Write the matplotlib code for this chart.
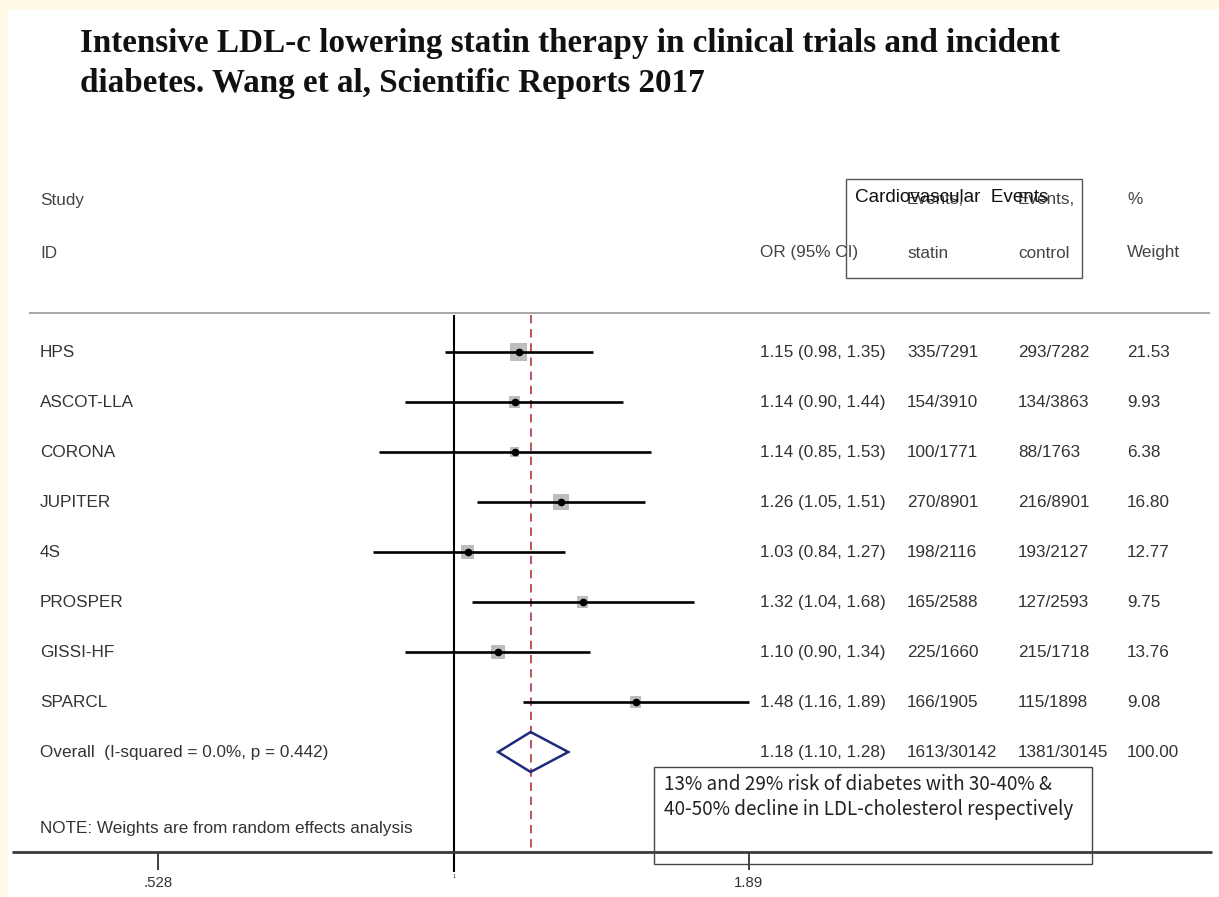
import numpy as np
import matplotlib
matplotlib.use("Agg")
import matplotlib.pyplot as plt
import matplotlib.transforms as mtransforms
from matplotlib.patches import Rectangle

# ---------------- data ----------------
studies = ["HPS", "ASCOT-LLA", "CORONA", "JUPITER", "4S", "PROSPER", "GISSI-HF", "SPARCL"]
or_est = [1.15, 1.14, 1.14, 1.26, 1.03, 1.32, 1.10, 1.48]
ci_low = [0.98, 0.90, 0.85, 1.05, 0.84, 1.04, 0.90, 1.16]
ci_high = [1.35, 1.44, 1.53, 1.51, 1.27, 1.68, 1.34, 1.89]
events_statin = ["335/7291", "154/3910", "100/1771", "270/8901", "198/2116", "165/2588", "225/1660", "166/1905"]
events_control = ["293/7282", "134/3863", "88/1763", "216/8901", "193/2127", "127/2593", "215/1718", "115/1898"]
weights = [21.53, 9.93, 6.38, 16.80, 12.77, 9.75, 13.76, 9.08]

overall_label = "Overall  (I-squared = 0.0%, p = 0.442)"
overall_est = 1.18
overall_low = 1.10
overall_high = 1.28
overall_statin = "1613/30142"
overall_control = "1381/30145"
overall_weight = "100.00"

tick_values = [0.528, 1.0, 1.89]
tick_labels = [".528", "1", "1.89"]

title_lines = ["Intensive LDL-c lowering statin therapy in clinical trials and incident",
               "diabetes. Wang et al, Scientific Reports 2017"]
note_text = "NOTE: Weights are from random effects analysis"
annot_lines = ["13% and 29% risk of diabetes with 30-40% &",
               "40-50% decline in LDL-cholesterol respectively"]

# ---------------- layout ----------------
W, H = 1219, 897
K = 463.0          # pixels per ln-unit
X1 = 454.0         # pixel x of OR = 1
ROW0, STEP = 352.0, 50.0

fig = plt.figure(figsize=(W / 100, H / 100), dpi=100)
fig.patch.set_facecolor("#fffbe6")
fig.add_artist(Rectangle((8 / W, 0), (W - 8) / W, (H - 10) / H, transform=fig.transFigure,
                         facecolor="white", edgecolor="none", zorder=0))

ax = fig.add_axes([0, 0, 1, 1])
ax.set_xscale("log")
ax.set_xlim(np.exp(-X1 / K), np.exp((W - X1) / K))
ax.set_ylim((H - ROW0) / STEP, -ROW0 / STEP)
ax.axis("off")
ax.patch.set_alpha(0)


def yd(py):
    return (py - ROW0) / STEP


def xd(px):
    return np.exp((px - X1) / K)


pix = mtransforms.Affine2D().scale(1 / W, -1 / H).translate(0, 1) + fig.transFigure
rowtr = mtransforms.blended_transform_factory(pix, ax.transData)

TXT = "#333333"
FONT = "Liberation Sans"
FS = 12.3

# header line
ax.hlines(yd(313), xd(29), xd(1210), color="#a0a0a0", lw=1.3)

# null line and overall dashed line
ax.vlines(1.0, yd(315), yd(872), color="black", lw=1.5, zorder=3)
ax.vlines(overall_est, yd(315), yd(852), color="#b5343f", lw=1.2,
          linestyles=(0, (5, 3.5)), zorder=3)

rows = np.arange(len(studies))
# weight squares
sides_pt = np.sqrt(np.array(weights) * 13.5) * 0.72
ax.scatter(or_est, rows, marker="s", s=sides_pt ** 2, color="#bdbdbd", edgecolor="none", zorder=2)
# CI lines
ax.hlines(rows, ci_low, ci_high, color="black", lw=1.9, zorder=4)
ax.scatter(or_est, rows, marker="o", s=4.5 ** 2, color="black", zorder=5)

# overall diamond
orow = len(studies)
ax.fill([overall_low, overall_est, overall_high, overall_est],
        [orow, orow - 0.4, orow, orow + 0.4], facecolor="none",
        edgecolor="#1f2a7a", lw=1.8, zorder=5)

# bottom axis
ax.hlines(yd(852), xd(12), xd(1212), color="#3a3a3a", lw=2.0, zorder=3)
for v, lab in zip(tick_values, tick_labels):
    if v != 1.0:
        ax.vlines(v, yd(852), yd(870), color="#333333", lw=1.3)
        ax.text(v, yd(876), lab, ha="center", va="top", fontsize=FS - 1.5, color=TXT, family=FONT)
    else:
        ax.text(v, yd(874), lab, ha="center", va="top", fontsize=4, color=TXT, family=FONT)

# titles
for i, line in enumerate(title_lines):
    fig.text(80, 52 + 40 * i, line, transform=pix, ha="left", va="baseline",
             fontsize=23.9, fontweight="bold", family="Liberation Serif", color="#111111")

# column headers
hdr = [(40, 200, "Study"), (40, 253, "ID"), (760, 253, "OR (95% CI)"),
       (907, 200, "Events,"), (907, 253, "statin"), (1018, 200, "Events,"),
       (1018, 253, "control"), (1127, 200, "%"), (1127, 253, "Weight")]
for x, y, s in hdr:
    fig.text(x, y, s, transform=pix, ha="left", va="center", fontsize=FS, color="#444444", family=FONT)

# cardiovascular events box
fig.add_artist(Rectangle((846, 179), 236, 99, transform=pix, facecolor="none",
                         edgecolor="#555555", lw=1.0))
fig.text(855, 198, "Cardiovascular  Events", transform=pix, ha="left", va="center",
         fontsize=13.6, color="#111111", family=FONT)

# rows text
for i, st in enumerate(studies):
    ax.text(40, i, st, transform=rowtr, ha="left", va="center", fontsize=FS, color=TXT, family=FONT)
    ax.text(760, i, f"{or_est[i]:.2f} ({ci_low[i]:.2f}, {ci_high[i]:.2f})", transform=rowtr,
            ha="left", va="center", fontsize=FS, color=TXT, family=FONT)
    ax.text(907, i, events_statin[i], transform=rowtr, ha="left", va="center", fontsize=FS, color=TXT, family=FONT)
    ax.text(1018, i, events_control[i], transform=rowtr, ha="left", va="center", fontsize=FS, color=TXT, family=FONT)
    ax.text(1127, i, f"{weights[i]:.2f}", transform=rowtr, ha="left", va="center", fontsize=FS, color=TXT, family=FONT)

ax.text(40, orow, overall_label, transform=rowtr, ha="left", va="center", fontsize=FS, color=TXT, family=FONT)
ax.text(760, orow, f"{overall_est:.2f} ({overall_low:.2f}, {overall_high:.2f})", transform=rowtr,
        ha="left", va="center", fontsize=FS, color=TXT, family=FONT)
ax.text(907, orow, overall_statin, transform=rowtr, ha="left", va="center", fontsize=FS, color=TXT, family=FONT)
ax.text(1018, orow, overall_control, transform=rowtr, ha="left", va="center", fontsize=FS, color=TXT, family=FONT)
ax.text(1127, orow, overall_weight, transform=rowtr, ha="left", va="center", fontsize=FS, color=TXT, family=FONT)

fig.text(40, 828, note_text, transform=pix, ha="left", va="center", fontsize=FS, color=TXT, family=FONT)

# annotation box
fig.add_artist(Rectangle((654, 767), 438, 97, transform=pix, facecolor="none",
                         edgecolor="#444444", lw=1.0, zorder=6))
for i, line in enumerate(annot_lines):
    fig.text(664, 785 + 25 * i, line, transform=pix, ha="left", va="center", fontsize=13.6,
             color="#222222", family=["Noto Sans CJK JP", "DejaVu Sans"])

fig.savefig("out.png", dpi=100, facecolor=fig.get_facecolor())
